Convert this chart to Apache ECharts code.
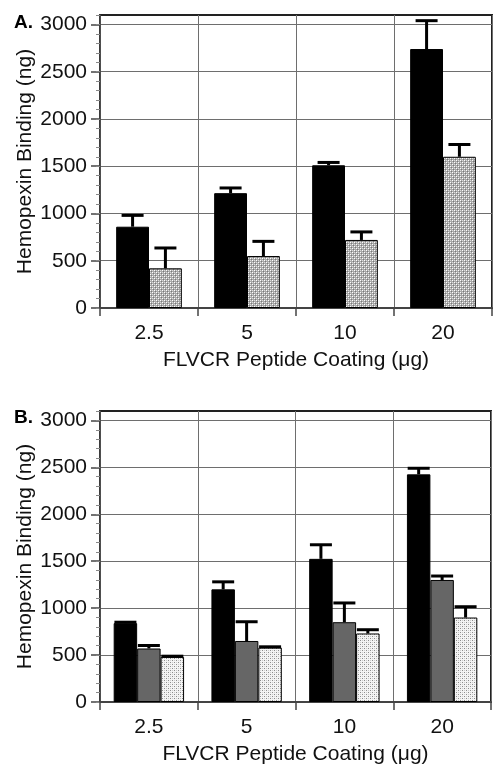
<!DOCTYPE html>
<html>
<head>
<meta charset="utf-8">
<script src="https://cdn.jsdelivr.net/npm/echarts@6/dist/echarts.min.js"></script>
<style>
  html, body { margin: 0; padding: 0; background: #fff; }
  #chart { width: 493px; height: 766px; }
</style>
</head>
<body>
<div id="chart"></div>
<script>
// categories (peptide coating, ug)
const categories = ['2.5', '5', '10', '20'];
const yTicks = [0, 500, 1000, 1500, 2000, 2500, 3000];

// panel A
const aBlack = [860, 1215, 1510, 2740];
const aBlackErr = [120, 55, 30, 300];
const aDot = [420, 550, 720, 1600];
const aDotErr = [215, 155, 85, 130];

// panel B
const bBlack = [840, 1200, 1525, 2425];
const bBlackErr = [10, 80, 150, 65];
const bGray = [570, 650, 850, 1300];
const bGrayErr = [32, 205, 205, 42];
const bDot = [480, 580, 730, 900];
const bDotErr = [8, 8, 40, 115];

const FONT = 'Liberation Sans, Arial, sans-serif';

// stipple fills
function makePattern(bg, dots) {
  const c = document.createElement('canvas');
  c.width = 4; c.height = 4;
  const ctx = c.getContext('2d');
  ctx.fillStyle = bg;
  ctx.fillRect(0, 0, 4, 4);
  dots.forEach(d => {
    ctx.fillStyle = d[2];
    ctx.fillRect(d[0], d[1], 1, 1);
  });
  return { image: c, repeat: 'repeat' };
}
const patA = makePattern('#a8a8a8', [[0, 0, '#ffffff'], [2, 2, '#ffffff'], [1, 1, '#7a7a7a'], [3, 3, '#7a7a7a'], [2, 0, '#dddddd'], [0, 2, '#dddddd']]);
const patB = makePattern('#f4f4f4', [[0, 0, '#8c8c8c'], [2, 2, '#8c8c8c'], [2, 0, '#cccccc'], [0, 2, '#cccccc']]);

const gapA = 0.33, gapB = 0.28;

function errSeries(name, xi, yi, vals, errs, idx, n, gap) {
  return {
    name: name, type: 'custom', xAxisIndex: xi, yAxisIndex: yi, z: 5,
    data: vals.map((v, i) => [i, v, errs[i]]),
    renderItem: function (params, api) {
      const cat = api.value(0), v = api.value(1), e = api.value(2);
      const base = api.coord([cat, v]);
      const top = api.coord([cat, v + e]);
      const band = api.size([1, 0])[0];
      const bw = band * (1 - gap) / n;
      const x = base[0] + (idx - (n - 1) / 2) * bw;
      const half = 11;
      const st = { stroke: '#000', lineWidth: 3 };
      return {
        type: 'group',
        children: [
          { type: 'line', shape: { x1: x, y1: base[1], x2: x, y2: top[1] }, style: st },
          { type: 'line', shape: { x1: x - half, y1: top[1], x2: x + half, y2: top[1] }, style: st }
        ]
      };
    }
  };
}

function barSeries(xi, yi, vals, color, gap) {
  return {
    type: 'bar', xAxisIndex: xi, yAxisIndex: yi, data: vals,
    barGap: '0%', barCategoryGap: (gap * 100) + '%',
    itemStyle: { color: color, borderColor: '#000', borderWidth: 1 }
  };
}

function xAxis(gi) {
  return {
    type: 'category', gridIndex: gi, data: categories,
    name: 'FLVCR Peptide Coating (\u03bcg)', nameLocation: 'middle', nameGap: 42,
    nameTextStyle: { fontSize: 21, color: '#111', fontFamily: FONT },
    axisLine: { lineStyle: { color: '#444', width: 2 } },
    axisTick: { show: true, length: 8, lineStyle: { color: '#444', width: 1.5 } },
    axisLabel: { fontSize: 21, color: '#111', fontFamily: FONT, margin: 15 },
    splitLine: { show: true, lineStyle: { color: '#6e6e6e', width: 1 } }
  };
}

function yAxisMain(gi) {
  return {
    type: 'value', gridIndex: gi, min: 0, max: 3100, interval: 500,
    name: 'Hemopexin Binding (ng)', nameLocation: 'middle', nameGap: 64, nameMoveOverlap: false,
    nameTextStyle: { fontSize: 21, color: '#111', fontFamily: FONT },
    axisLine: { show: true, lineStyle: { color: '#444', width: 1.5 } },
    axisTick: { show: true, length: 9, customValues: yTicks, lineStyle: { color: '#444', width: 1.5 } },
    axisLabel: { fontSize: 21, color: '#111', fontFamily: FONT, margin: 13,
      formatter: v => (v > 3000 ? '' : String(v)) },
    splitLine: { show: true, lineStyle: { color: '#6e6e6e', width: 1 } }
  };
}

function yAxisMinor(gi) {
  return {
    type: 'value', gridIndex: gi, min: 0, max: 3100, interval: 100, position: 'left',
    axisLine: { show: false },
    axisTick: { show: true, length: 4, lineStyle: { color: '#888', width: 1 } },
    axisLabel: { show: false },
    splitLine: { show: false }
  };
}

const chart = echarts.init(document.getElementById('chart'), null, { renderer: 'canvas' });
chart.setOption({
  animation: false,
  backgroundColor: '#fff',
  title: [
    { text: 'A.', left: 9, top: 8, textStyle: { fontSize: 19, fontWeight: 'bold', color: '#000', fontFamily: FONT } },
    { text: 'B.', left: 9, top: 403, textStyle: { fontSize: 19, fontWeight: 'bold', color: '#000', fontFamily: FONT } }
  ],
  grid: [
    { left: 100, right: 1, top: 15, height: 293, show: true, borderColor: '#222', borderWidth: 2, backgroundColor: 'transparent' },
    { left: 100, right: 2, top: 411, height: 292, show: true, borderColor: '#222', borderWidth: 2, backgroundColor: 'transparent' }
  ],
  xAxis: [xAxis(0), xAxis(1)],
  yAxis: [yAxisMain(0), yAxisMinor(0), yAxisMain(1), yAxisMinor(1)],
  series: [
    barSeries(0, 0, aBlack, '#000', gapA),
    barSeries(0, 0, aDot, patA, gapA),
    errSeries('aBlackErr', 0, 0, aBlack, aBlackErr, 0, 2, gapA),
    errSeries('aDotErr', 0, 0, aDot, aDotErr, 1, 2, gapA),
    barSeries(1, 2, bBlack, '#000', gapB),
    barSeries(1, 2, bGray, '#666', gapB),
    barSeries(1, 2, bDot, patB, gapB),
    errSeries('bBlackErr', 1, 2, bBlack, bBlackErr, 0, 3, gapB),
    errSeries('bGrayErr', 1, 2, bGray, bGrayErr, 1, 3, gapB),
    errSeries('bDotErr', 1, 2, bDot, bDotErr, 2, 3, gapB)
  ]
});
</script>
</body>
</html>
